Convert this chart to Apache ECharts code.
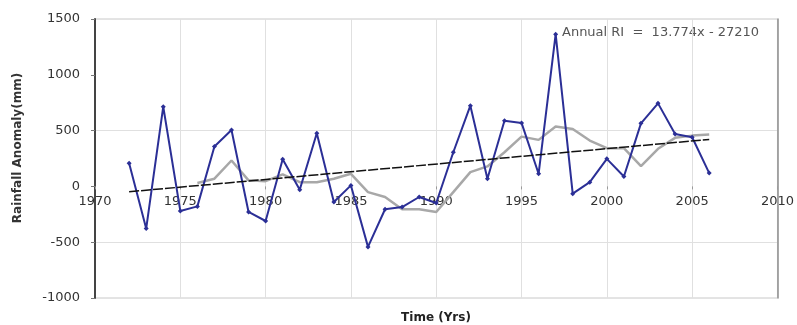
<!DOCTYPE html>
<html>
<head>
<meta charset="utf-8">
<script src="https://cdn.jsdelivr.net/npm/echarts@6/dist/echarts.min.js"></script>
<style>
  html, body { margin: 0; padding: 0; background: #fff; }
  #chart { width: 797px; height: 325px; }
</style>
</head>
<body>
<div id="chart"></div>
<script>
// Annual rainfall anomaly (mm), 1972-2006
const years = [1972, 1973, 1974, 1975, 1976, 1977, 1978, 1979, 1980, 1981,
               1982, 1983, 1984, 1985, 1986, 1987, 1988, 1989, 1990, 1991,
               1992, 1993, 1994, 1995, 1996, 1997, 1998, 1999, 2000, 2001,
               2002, 2003, 2004, 2005, 2006];
const annualRI = [208, -378, 714, -220, -179, 357, 506, -229, -310, 244,
                  -30, 476, -140, 9, -542, -205, -185, -95, -149, 306,
                  723, 69, 589, 569, 113, 1364, -65, 38, 247, 89,
                  565, 744, 470, 440, 119];

// 5-year running mean, 1976-2006
const maYears = [1976, 1977, 1978, 1979, 1980, 1981, 1982, 1983, 1984, 1985,
                 1986, 1987, 1988, 1989, 1990, 1991, 1992, 1993, 1994, 1995,
                 1996, 1997, 1998, 1999, 2000, 2001, 2002, 2003, 2004, 2005, 2006];
const movingAvg = [30, 69, 232, 54, 47, 107, 38, 38, 69, 113,
                   -51, -95, -205, -205, -229, -51, 128, 179, 306, 446,
                   417, 536, 515, 411, 342, 342, 181, 337, 435, 455, 464];

// Linear trend: Annual RI = 13.774x - 27210
const trendYears = [1972, 2006];
const trendValues = [-48, 421];
const trendLabel = 'Annual RI  =  13.774x - 27210';

const xTicks = ['1970', '1975', '1980', '1985', '1990', '1995', '2000', '2005', '2010'];
const yTicks = ['-1000', '-500', '0', '500', '1000', '1500'];

const zip = (xs, ys) => xs.map((x, i) => [x, ys[i]]);
const FONT = 'DejaVu Sans';

const GRID = { left: 95, right: 19, top: 19, bottom: 27 };
const Y_MIN = -1000, Y_MAX = 1500;
const plotH = 325 - GRID.top - GRID.bottom;
// lift the year axis from the bottom edge up to the zero line
const zeroLift = plotH * (0 - Y_MIN) / (Y_MAX - Y_MIN);

const chart = echarts.init(document.getElementById('chart'), null, { renderer: 'canvas' });

chart.setOption({
  animation: false,
  backgroundColor: '#ffffff',
  grid: Object.assign({ show: true, borderColor: '#c8c8c8', borderWidth: 1 }, GRID),
  xAxis: {
    type: 'value', min: 1970, max: 2010, interval: 5,
    position: 'bottom', offset: -zeroLift,
    axisLine: { show: false, onZero: false },
    axisTick: { show: true, length: 3, lineStyle: { color: '#9a9a9a' } },
    axisLabel: {
      color: '#333', fontFamily: FONT, fontSize: 13, margin: 9,
      formatter: v => xTicks[Math.round((v - 1970) / 5)]
    },
    splitLine: { show: true, lineStyle: { color: '#e0e0e0', width: 1 } }
  },
  yAxis: [{
    type: 'value', min: Y_MIN, max: Y_MAX, interval: 500,
    axisLine: { show: true, onZero: false, lineStyle: { color: '#444', width: 2 } },
    axisTick: { show: true, length: 4, lineStyle: { color: '#777' } },
    axisLabel: {
      color: '#333', fontFamily: FONT, fontSize: 13, margin: 15,
      formatter: v => yTicks[Math.round((v - Y_MIN) / 500)]
    },
    splitLine: {
      show: true,
      lineStyle: { width: 1, color: ['transparent', '#e0e0e0', 'transparent', '#e0e0e0', 'transparent', 'transparent'] }
    }
  }, {
    type: 'value', position: 'right', min: Y_MIN, max: Y_MAX, interval: 500,
    axisLine: { show: true, onZero: false, lineStyle: { color: '#8c8c8c', width: 1.5 } },
    axisTick: { show: false }, axisLabel: { show: false }, splitLine: { show: false }
  }],
  series: [{
    name: '5-yr mean', type: 'line', z: 2,
    data: zip(maYears, movingAvg),
    showSymbol: false, symbol: 'none',
    lineStyle: { color: '#a8a8a8', width: 2.5 }
  }, {
    name: 'Annual RI', type: 'line', z: 3,
    data: zip(years, annualRI),
    symbol: 'diamond', symbolSize: 5,
    itemStyle: { color: '#2b2f96' },
    lineStyle: { color: '#2b2f96', width: 2 }
  }, {
    name: 'Trend', type: 'line', z: 4,
    data: zip(trendYears, trendValues),
    symbol: 'none',
    lineStyle: { color: '#111', width: 1.5, type: [10, 2] }
  }],
  graphic: [{
    type: 'text', left: 562, top: 26,
    style: { text: trendLabel, fill: '#555', font: '13px "DejaVu Sans"' }
  }, {
    type: 'text', x: 18, y: 148, rotation: Math.PI / 2,
    style: {
      text: 'Rainfall Anomaly(mm)', fill: '#333', font: 'bold 12px "DejaVu Sans"',
      align: 'center', verticalAlign: 'middle'
    }
  }, {
    type: 'text', x: 436, y: 318,
    style: {
      text: 'Time (Yrs)', fill: '#222', font: 'bold 12px "DejaVu Sans"',
      align: 'center', verticalAlign: 'middle'
    }
  }]
});
</script>
</body>
</html>
